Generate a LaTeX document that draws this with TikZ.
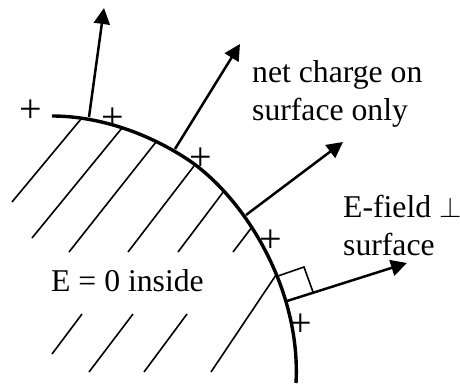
\documentclass[tikz,border=0pt]{standalone}
\usepackage{fontspec}
\setmainfont{Liberation Serif}
\usetikzlibrary{arrows.meta}
\tikzset{
  px/.style={x=1pt,y=-1pt},
  surfaceline/.style={line width=3.4pt,black},
  hatch/.style={line width=1.6pt,black},
  fieldarrow/.style={line width=2.5pt,black,-{Triangle[length=16pt,width=16pt]}},
  rightmark/.style={line width=1.6pt,black},
  lbl/.style={font=\fontsize{31.7}{38}\selectfont,inner sep=0pt,anchor=base west,align=left},
  plus/.style={font=\fontsize{40}{40}\selectfont,inner sep=0pt,anchor=center}
}
\begin{document}
\begin{tikzpicture}[px]
\useasboundingbox (0,0) rectangle (460,383);
% hatching
\draw[hatch] (81,119) -- (12,202);
\draw[hatch] (122,128) -- (32,238);
\draw[hatch] (156,142) -- (69,252);
\draw[hatch] (194,166) -- (128,252);
\draw[hatch] (224,191) -- (178,252);
\draw[hatch] (252,227) -- (233,252);
\draw[hatch] (276,275) -- (211,372);
\draw[hatch] (82,314) -- (52,354);
\draw[hatch] (133,314) -- (89,372);
\draw[hatch] (187,314) -- (144,372);
% conductor surface
\draw[surfaceline] (52,116) .. controls (100,116) and (150,134) .. (190,161)
  .. controls (246,200) and (301,290) .. (296,383);
% field arrows
\draw[fieldarrow] (89,117) -- (104,8);
\draw[fieldarrow] (175,149) -- (240,44);
\draw[fieldarrow] (246,215) -- (343,142);
\draw[fieldarrow] (287,301) -- (407,263);
% right-angle mark
\draw[rightmark] (278,276) -- (304,267) -- (313,292);
% charges
\node[plus] (p1) at (31,111) {+};
\node[plus] (p2) at (113,119) {+};
\node[plus] (p3) at (201,159) {+};
\node[plus] (p4) at (271,241) {+};
\node[plus] (p5) at (301,325) {+};
% labels
\node[lbl] (net) at (252,120) {net charge on\\surface only};
\node[lbl] (efield) at (343,255) {E-field \scalebox{1.15}{$\perp$}\\surface};
\node[lbl] (inside) at (51,291) {E = 0 inside};
\end{tikzpicture}
\end{document}
